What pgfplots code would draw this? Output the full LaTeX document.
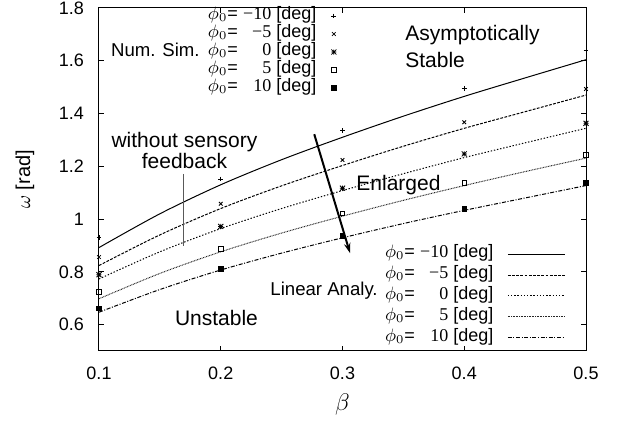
\documentclass[border=0pt]{standalone}
\usepackage{fontspec}
\setmainfont{Liberation Sans}
\newfontfamily\tms{Liberation Serif}
\usepackage{pgfplots}
\pgfplotsset{compat=1.18}
\usetikzlibrary{arrows.meta}

% gnuplot-style "*" point: a plus laid over a cross
\pgfdeclareplotmark{gpstar}{%
  \pgfpathmoveto{\pgfqpoint{-\pgfplotmarksize}{0pt}}%
  \pgfpathlineto{\pgfqpoint{\pgfplotmarksize}{0pt}}%
  \pgfpathmoveto{\pgfqpoint{0pt}{-\pgfplotmarksize}}%
  \pgfpathlineto{\pgfqpoint{0pt}{\pgfplotmarksize}}%
  \pgfpathmoveto{\pgfqpoint{-\pgfplotmarksize}{-\pgfplotmarksize}}%
  \pgfpathlineto{\pgfqpoint{\pgfplotmarksize}{\pgfplotmarksize}}%
  \pgfpathmoveto{\pgfqpoint{-\pgfplotmarksize}{\pgfplotmarksize}}%
  \pgfpathlineto{\pgfqpoint{\pgfplotmarksize}{-\pgfplotmarksize}}%
  \pgfusepathqstroke}

\newcommand\phientry[1]{\(\phi_0\)= \makebox[1.58em][r]{\tms #1} [deg]}
\newcommand\lbl{\fontsize{9}{10.5}\selectfont}
\newcommand\keylbl{\fontsize{9.3}{10.5}\selectfont}
\newcommand\note{\fontsize{10.5}{10.5}\selectfont}

\pgfplotsset{
  frame/.style={
    at={(49.5pt,36pt)}, anchor=south west,
    scale only axis, width=243.5pt, height=171.5pt,
    xmin=0.1, xmax=0.5, ymin=0.5, ymax=1.8,
    clip=false,
  },
}

\begin{document}
\begin{tikzpicture}
\useasboundingbox (0,0) rectangle (308.5pt,211.5pt);

% Linear analysis curves
\begin{axis}[frame,
  axis line style={line width=0.5pt},
  xtick={0.1,0.2,0.3,0.4,0.5},
  ytick={0.6,0.8,1,1.2,1.4,1.6,1.8},
  tick align=inside, major tick length=2.5pt,
  tick style={line width=0.5pt, black},
  /pgf/number format/assume math mode=true,
  ticklabel style={font=\lbl},
  xticklabel style={yshift=-4.5pt},
  yticklabel style={xshift=-4pt},
  xlabel={$\beta$},
  ylabel={$\omega$ [rad]},
  xlabel style={at={(axis description cs:0.5,-0.157)}, anchor=center, font=\fontsize{12}{14}\selectfont},
  ylabel style={at={(axis description cs:-0.152,0.5)}, anchor=center, font=\fontsize{10}{12}\selectfont},
  legend cell align=right, legend plot pos=right,
  legend image code/.code={\draw[#1] (0cm,0cm) -- (1cm,0cm);},
  legend style={at={(axis description cs:0.5873,0.312)}, anchor=north west,
    draw=none, fill=none, inner sep=0pt, outer sep=0pt,
    row sep=0pt, column sep=7pt, font=\lbl,
    nodes={inner sep=0pt, text height=7pt, text depth=3.4pt}},
]
\addplot[black, line width=0.5pt, smooth] coordinates {
  (0.10,0.892) (0.15,1.020) (0.20,1.130) (0.25,1.225) (0.30,1.310)
  (0.35,1.390) (0.40,1.465) (0.45,1.535) (0.50,1.604)};
\addlegendentry{\phientry{−10}}
\addplot[black, line width=0.5pt, smooth, dash pattern=on 1.4pt off 0.7pt] coordinates {
  (0.10,0.824) (0.15,0.940) (0.20,1.040) (0.25,1.126) (0.30,1.203)
  (0.35,1.276) (0.40,1.344) (0.45,1.407) (0.50,1.470)};
\addlegendentry{\phientry{−5}}
\addplot[black, line width=0.5pt, smooth, dash pattern=on 0.7pt off 0.9pt] coordinates {
  (0.10,0.773) (0.15,0.876) (0.20,0.964) (0.25,1.040) (0.30,1.108)
  (0.35,1.172) (0.40,1.233) (0.45,1.289) (0.50,1.344)};
\addlegendentry{\phientry{0}}
\addplot[black!85, line width=0.5pt, smooth, dash pattern=on 0.4pt off 0.4pt] coordinates {
  (0.10,0.698) (0.15,0.794) (0.20,0.876) (0.25,0.947) (0.30,1.011)
  (0.35,1.071) (0.40,1.127) (0.45,1.180) (0.50,1.231)};
\addlegendentry{\phientry{5}}
\addplot[black, line width=0.5pt, smooth, dash pattern=on 2pt off 0.8pt on 0.5pt off 0.8pt] coordinates {
  (0.10,0.647) (0.15,0.733) (0.20,0.807) (0.25,0.871) (0.30,0.929)
  (0.35,0.983) (0.40,1.033) (0.45,1.080) (0.50,1.127)};
\addlegendentry{\phientry{10}}

% region labels and remarks
\node[anchor=west, inner sep=0pt, font=\note] at (axis cs:0.3513,1.6977) {Asymptotically};
\node[anchor=west, inner sep=0pt, font=\note] at (axis cs:0.3513,1.6030) {Stable};
\node[inner sep=0pt, font=\note] at (axis cs:0.1965,0.6258) {Unstable};
\node[anchor=west, inner sep=0pt, font=\note] at (axis cs:0.3111,1.1295) {Enlarged};
\node[align=center, inner sep=0pt, font=\note] at (axis cs:0.1702,1.2602) {without sensory\\feedback};
\node[anchor=east, inner sep=0pt, font=\keylbl] at (axis cs:0.1830,1.6410) {Num. Sim.};
\node[anchor=east, inner sep=0pt, font=\keylbl] at (axis cs:0.3292,0.7280) {Linear Analy.};
\draw[black!65, line width=0.5pt] (axis cs:0.1698,1.1712) -- (axis cs:0.1698,0.8985);
\draw[-{Stealth[length=5pt,width=3.2pt]}, line width=1pt] (axis cs:0.2768,1.3216) -- (axis cs:0.3062,0.8709);
\end{axis}

% Numerical simulation points
\begin{axis}[frame, hide axis,
  legend cell align=right, legend plot pos=right,
  legend style={at={(axis description cs:0.2238,1.0029)}, anchor=north west,
    draw=none, fill=none, inner sep=0pt, outer sep=0pt,
    row sep=0pt, column sep=7.5pt, font=\lbl,
    nodes={inner sep=0pt, text height=6pt, text depth=3pt}},
]
\addplot[only marks, mark=+, mark size=1.2pt, mark options={line width=0.4pt}] coordinates {
  (0.1,0.929) (0.2,1.152) (0.3,1.335) (0.4,1.496) (0.5,1.641)};
\addlegendentry{\phientry{−10}}
\addplot[only marks, mark=x, mark size=1.3pt, mark options={line width=0.4pt}] coordinates {
  (0.1,0.856) (0.2,1.058) (0.3,1.224) (0.4,1.367) (0.5,1.493)};
\addlegendentry{\phientry{−5}}
\addplot[only marks, mark=gpstar, mark size=1.25pt, mark options={line width=0.4pt}] coordinates {
  (0.1,0.789) (0.2,0.972) (0.3,1.117) (0.4,1.247) (0.5,1.363)};
\addlegendentry{\phientry{0}}
\addplot[only marks, mark=square, mark size=1.15pt, mark options={line width=0.4pt, fill=white}] coordinates {
  (0.1,0.723) (0.2,0.886) (0.3,1.022) (0.4,1.136) (0.5,1.243)};
\addlegendentry{\phientry{5}}
\addplot[only marks, mark=square*, mark size=1.15pt, mark options={line width=0.4pt, fill=black}] coordinates {
  (0.1,0.662) (0.2,0.811) (0.3,0.936) (0.4,1.039) (0.5,1.136)};
\addlegendentry{\phientry{10}}
\end{axis}
\end{tikzpicture}
\end{document}
